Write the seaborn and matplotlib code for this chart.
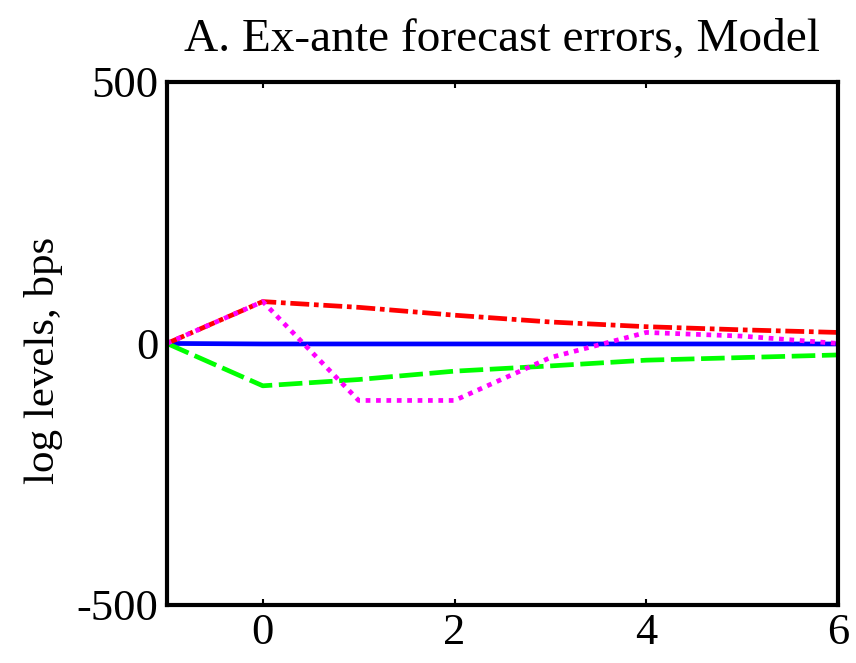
import numpy as np
import pandas as pd
import matplotlib
matplotlib.use("Agg")
import matplotlib.pyplot as plt
import seaborn as sns

horizon = [-1, 0, 1, 2, 3, 4, 5, 6]
blue_vals = [0, -1, -1, -1, -1, -1, -1, -1]
red_vals = [0, 80, 69, 54, 41, 32, 26, 21]
green_vals = [0, -81, -69, -53, -43, -32, -27, -22]
magenta_vals = [0, 80, -109, -109, -27, 21, 14, 0]

series_names = ["s1", "s2", "s3", "s4"]
series_vals = [blue_vals, red_vals, green_vals, magenta_vals]

df = pd.concat([
    pd.DataFrame({"h": horizon, "v": vals, "s": name})
    for name, vals in zip(series_names, series_vals)
], ignore_index=True)

sns.set_theme(style="white")
plt.rcParams["font.family"] = ["Liberation Serif", "DejaVu Serif"]
plt.rcParams["text.color"] = "black"
plt.rcParams["axes.labelcolor"] = "black"

fig = plt.figure(figsize=(8.56, 6.63), dpi=100)
ax = fig.add_axes([0.195, 0.0875, 0.784, 0.789])

palette = {"s1": "#0000ff", "s2": "#ff0000", "s3": "#00ff00", "s4": "#ff00ff"}
dashes = {"s1": "", "s2": (4, 1, 1, 1), "s3": (5, 1.4), "s4": (1, 1.2)}

sns.lineplot(data=df, x="h", y="v", hue="s", style="s", palette=palette,
             dashes=dashes, linewidth=3.4, legend=False, ax=ax, sort=False)
for ln in ax.lines:
    ln.set_dash_capstyle("butt")

ax.set_xlim(-1, 6)
ax.set_ylim(-500, 500)
ax.set_xticks([0, 2, 4, 6])
ax.set_yticks([-500, 0, 500])
ax.set_xticklabels(["0", "2", "4", "6"])
ax.set_yticklabels(["-500", "0", "500"])
ax.tick_params(axis="both", labelsize=32, direction="in", length=4, width=1.5,
               top=True, right=True, bottom=True, left=True, pad=6,
               colors="black", labelcolor="black")
ax.set_xlabel("")
ax.set_ylabel("log levels, bps", fontsize=31, color="black")
ax.yaxis.set_label_coords(-0.155, 0.468)
ax.set_title("A. Ex-ante forecast errors, Model", fontsize=34, pad=22, color="black")
for sp in ax.spines.values():
    sp.set_visible(True)
    sp.set_color("black")
    sp.set_linewidth(3)
ax.grid(False)

fig.savefig("out.png", dpi=100)
